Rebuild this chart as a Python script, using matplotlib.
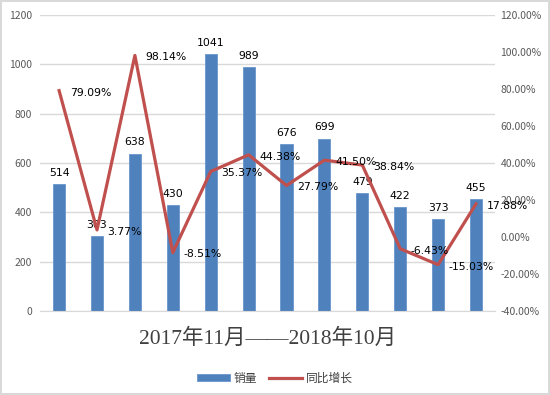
import matplotlib.pyplot as plt
import numpy as np

plt.rcParams['font.family'] = ['Noto Sans CJK SC', 'DejaVu Sans']

months = ['2017-11', '2017-12', '2018-01', '2018-02', '2018-03', '2018-04',
          '2018-05', '2018-06', '2018-07', '2018-08', '2018-09', '2018-10']
sales = [514, 303, 638, 430, 1041, 989, 676, 699, 479, 422, 373, 455]
growth = [79.09, 3.77, 98.14, -8.51, 35.37, 44.38, 27.79, 41.50, 38.84, -6.43, -15.03, 17.88]

bar_color = '#4F81BD'
line_color = '#C0504D'
tick_color = '#595959'

fig = plt.figure(figsize=(5.5, 3.95), dpi=100)
fig.patch.set_edgecolor('#D9D9D9')
fig.patch.set_linewidth(1.5)
ax = fig.add_axes([0.073, 0.213, 0.827, 0.749])
ax2 = ax.twinx()

x = np.arange(len(months))
bars = ax.bar(x, sales, width=0.32, color=bar_color, edgecolor='#6A96CC',
              linewidth=0.6, label='销量', zorder=2)
ax.set_ylim(0, 1200)
ax.set_yticks(range(0, 1201, 200))
ax.set_xlim(-0.5, len(months) - 0.5)
ax.set_xticks([])
ax.grid(axis='y', color='#D9D9D9', linewidth=1, zorder=0)
ax.set_axisbelow(True)

for xi, v in zip(x, sales):
    ax.text(xi, v + 25, str(v), ha='center', va='bottom', fontsize=7.8,
            family=['DejaVu Sans'], color='black', zorder=5)

line, = ax2.plot(x, growth, color=line_color, linewidth=2.3, label='同比增长', zorder=3)
ax2.set_ylim(-40, 120)
ax2.set_yticks(range(-40, 121, 20))
ax2.set_yticklabels(['%.2f%%' % t for t in range(-40, 121, 20)])

for xi, g in zip(x, growth):
    ax2.text(xi + 0.28, g - 1, '%.2f%%' % g, ha='left', va='center', fontsize=7.8,
             family=['DejaVu Sans'], color='black', zorder=5)

for a in (ax, ax2):
    for s in a.spines.values():
        s.set_visible(False)
    a.tick_params(length=0, labelsize=7.5, colors=tick_color)
ax.spines['bottom'].set_visible(True)
ax.spines['bottom'].set_color('#D9D9D9')
ax.tick_params(axis='y', pad=6)
ax2.tick_params(axis='y', pad=4)

ax.set_xlabel('2017年11月——2018年10月', fontsize=15.5, color='#404040', labelpad=13,
              family=['Liberation Serif', 'Noto Sans CJK SC'])

fig.legend([bars, line], ['销量', '同比增长'], loc='center', bbox_to_anchor=(0.5, 0.043),
           ncol=2, frameon=False, fontsize=8.5, handlelength=2.8, handleheight=0.5,
           columnspacing=1.0, handletextpad=0.3, labelcolor='#404040')

fig.savefig('out.png', dpi=100)
